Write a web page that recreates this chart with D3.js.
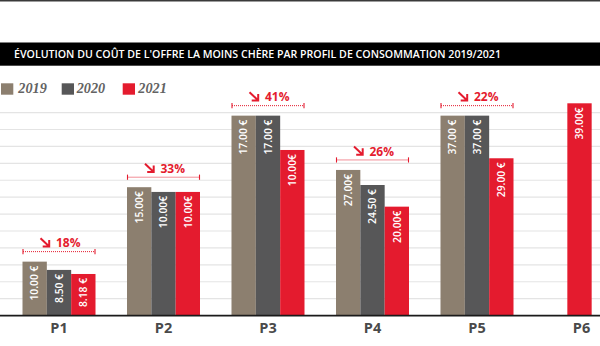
<!DOCTYPE html>
<html>
<head>
<meta charset="utf-8">
<script src="https://cdn.jsdelivr.net/npm/d3@7"></script>
<style>
  html, body { margin: 0; padding: 0; background: #fff; }
  svg { display: block; }
</style>
</head>
<body>
<svg id="chart" width="600" height="346"></svg>
<script>
// ---------- DATA ----------
const title = "ÉVOLUTION DU COÛT DE L'OFFRE LA MOINS CHÈRE PAR PROFIL DE CONSOMMATION 2019/2021";
const categories = ["P1", "P2", "P3", "P4", "P5", "P6"];
const years = ["2019", "2020", "2021"];
// Price labels printed on the bars (null = no bar)
const labels2019 = ["10.00 €", "15.00€", "17.00 €", "27.00€", "37.00 €", null];
const labels2020 = ["8.50 €", "10.00€", "17.00 €", "24.50 €", "37.00 €", null];
const labels2021 = ["8.18 €", "10.00€", "10.00€", "20.00€", "29.00 €", "39.00€"];
// Drawn bar heights, in gridline units (the infographic is not to scale)
const heights2019 = [3.19, 7.59, 11.82, 8.61, 11.82, null];
const heights2020 = [2.70, 7.31, 11.82, 7.72, 11.82, null];
const heights2021 = [2.46, 7.31, 9.79, 6.44, 9.30, 12.55];
// Decrease annotations per profile
const decreases = ["18%", "33%", "41%", "26%", "22%", null];
const gridUnits = [1, 2, 3, 4, 5, 6, 7, 8, 9, 10, 11, 12];

const colors = { "2019": "#8c7f6f", "2020": "#575758", "2021": "#e41b2e" };
const red = "#e41b2e";

// ---------- SETUP ----------
const svg = d3.select("#chart");
const W = 600;

const y = d3.scaleLinear().domain([0, 12]).range([315.6, 112.6]);
const xc = d3.scalePoint().domain(categories).range([59, 581.5]);
const xs = d3.scaleBand().domain(years).range([-36.5, 36.5]);

// top rule
svg.append("rect").attr("x", 0).attr("y", 0).attr("width", W).attr("height", 1.5).attr("fill", "#3a3a3a");

// title bar
svg.append("rect").attr("x", 0).attr("y", 42.5).attr("width", W).attr("height", 23.2).attr("fill", "#000");
svg.append("text")
  .attr("x", 14).attr("y", 57.8)
  .attr("fill", "#fff")
  .attr("font-family", "'Open Sans', sans-serif")
  .attr("font-weight", 600)
  .attr("font-size", 11)
  .attr("textLength", 487)
  .attr("lengthAdjust", "spacingAndGlyphs")
  .text(title);

// legend
const legendX = [{ sq: 1, tx: 18.3 }, { sq: 61.7, tx: 76.7 }, { sq: 122.7, tx: 138.3 }];
const lg = svg.append("g");
years.forEach((yr, i) => {
  lg.append("rect").attr("x", legendX[i].sq).attr("y", 83.3).attr("width", 12.3).attr("height", 11.4).attr("fill", colors[yr]);
  lg.append("text")
    .attr("x", legendX[i].tx).attr("y", 93)
    .attr("font-family", "'Liberation Serif', serif")
    .attr("font-style", "italic").attr("font-weight", 700)
    .attr("font-size", 14)
    .attr("fill", "#636363")
    .attr("textLength", 28.5)
    .attr("lengthAdjust", "spacingAndGlyphs")
    .text(yr);
});

// gridlines
svg.append("g").selectAll("line").data(gridUnits).join("line")
  .attr("x1", 0).attr("x2", W)
  .attr("y1", d => y(d)).attr("y2", d => y(d))
  .attr("stroke", "#e4e4e4").attr("stroke-width", 1.2);

// bars
const series = [
  { year: "2019", labels: labels2019, heights: heights2019 },
  { year: "2020", labels: labels2020, heights: heights2020 },
  { year: "2021", labels: labels2021, heights: heights2021 }
];
const bars = [];
categories.forEach((c, i) => {
  const present = series.filter(s => s.heights[i] != null);
  present.forEach(s => {
    let x0;
    if (present.length === 3) x0 = xc(c) + xs(s.year);
    else x0 = xc(c) - xs.bandwidth() / 2 - 2;
    bars.push({ cat: c, year: s.year, h: s.heights[i], label: s.labels[i], x: x0 });
  });
});

const bw = xs.bandwidth();
const bg = svg.append("g");
bg.selectAll("rect").data(bars).join("rect")
  .attr("x", d => d.x).attr("width", bw)
  .attr("y", d => y(d.h)).attr("height", d => y(0) - y(d.h))
  .attr("fill", d => colors[d.year]);

bg.selectAll("text").data(bars).join("text")
  .attr("transform", d => `translate(${d.x + bw / 2},${y(d.h) + 4}) rotate(-90)`)
  .attr("text-anchor", "end")
  .attr("dy", "0.36em")
  .attr("fill", "#fff")
  .attr("font-family", "'Open Sans', sans-serif")
  .attr("font-weight", 600)
  .attr("font-size", 10.3)
  .text(d => d.label);

// baseline
svg.append("line").attr("x1", 0).attr("x2", W).attr("y1", y(0)).attr("y2", y(0))
  .attr("stroke", "#1a1a1a").attr("stroke-width", 1.6);

// category labels
svg.append("g").selectAll("text").data(categories).join("text")
  .attr("x", d => xc(d)).attr("y", 332.6)
  .attr("text-anchor", "middle")
  .attr("font-family", "'Open Sans', sans-serif")
  .attr("font-weight", 700)
  .attr("font-size", 14.5)
  .attr("fill", "#4a4a4a")
  .text(d => d);

// decrease annotations
const ann = svg.append("g");
categories.forEach((c, i) => {
  if (!decreases[i]) return;
  const maxH = d3.max(series, s => s.heights[i]);
  const top = y(maxH);
  const cx = xc(c);
  const by = top - 10;
  const g = ann.append("g");
  g.append("line").attr("x1", cx - 36).attr("x2", cx + 36).attr("y1", by).attr("y2", by)
    .attr("stroke", red).attr("stroke-width", 1).attr("stroke-dasharray", "1,1");
  [cx - 36, cx + 36].forEach(xx => {
    g.append("line").attr("x1", xx).attr("x2", xx).attr("y1", by - 2.6).attr("y2", by + 2.6)
      .attr("stroke", red).attr("stroke-width", 1.1);
  });
  const ty = top - 14.4;
  const ax0 = cx - 18.5, ax1 = cx - 9.8, ay0 = ty - 9, ay1 = ty - 0.8;
  g.append("path")
    .attr("d", `M${ax0},${ay0} L${ax1},${ay1} M${ax1 - 6.5},${ay1} L${ax1},${ay1} L${ax1},${ay1 - 6.5}`)
    .attr("fill", "none").attr("stroke", red).attr("stroke-width", 2);
  g.append("text")
    .attr("x", cx - 3).attr("y", ty)
    .attr("font-family", "'Open Sans', sans-serif")
    .attr("font-weight", 700)
    .attr("font-size", 12)
    .attr("fill", red)
    .text(decreases[i]);
});
</script>
</body>
</html>
